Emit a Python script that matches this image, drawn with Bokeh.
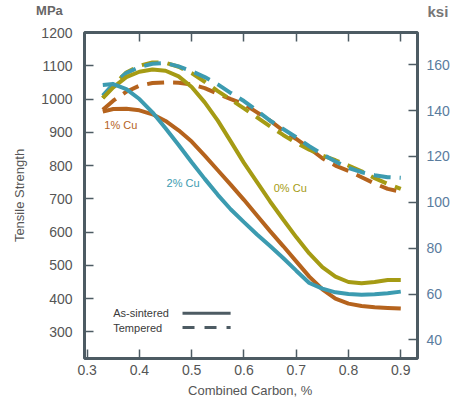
from bokeh.plotting import figure
from bokeh.models import Range1d, LinearAxis, FixedTicker, Label
from bokeh.embed import file_html
from bokeh.resources import INLINE

# Combined carbon content (%) at which each curve is sampled
carbon = [0.33, 0.35, 0.375, 0.40, 0.425, 0.45, 0.475, 0.50, 0.525, 0.55, 0.575, 0.60,
          0.625, 0.65, 0.675, 0.70, 0.725, 0.75, 0.775, 0.80, 0.825, 0.85, 0.875, 0.90]

# Tensile strength, MPa -- as-sintered
sint_0cu = [1003, 1035, 1066, 1082, 1089, 1085, 1068, 1036, 990, 935, 872, 808,
            750, 692, 638, 585, 536, 495, 466, 450, 446, 450, 456, 456]
sint_1cu = [962, 970, 971, 966, 954, 934, 906, 872, 830, 786, 742, 697,
            650, 603, 558, 512, 466, 428, 400, 385, 378, 374, 372, 370]
sint_2cu = [1042, 1045, 1030, 1000, 960, 912, 862, 810, 760, 712, 668, 630,
            593, 558, 522, 484, 447, 430, 419, 414, 412, 413, 416, 421]

# Tensile strength, MPa -- tempered
temp_0cu = [1003, 1040, 1080, 1100, 1110, 1109, 1097, 1078, 1052, 1024, 998, 972,
            945, 918, 892, 868, 848, 830, 816, 800, 783, 762, 745, 730]
temp_1cu = [968, 995, 1022, 1040, 1048, 1050, 1049, 1044, 1033, 1016, 1000, 985,
            960, 935, 905, 880, 852, 822, 800, 784, 765, 746, 730, 721]
temp_2cu = [1010, 1045, 1078, 1096, 1106, 1108, 1098, 1084, 1066, 1044, 1018, 994,
            965, 935, 910, 885, 858, 834, 812, 793, 780, 771, 765, 763]

x_ticks = [0.3, 0.4, 0.5, 0.6, 0.7, 0.8, 0.9]
mpa_ticks = [300, 400, 500, 600, 700, 800, 900, 1000, 1100, 1200]
ksi_ticks = [40, 60, 80, 100, 120, 140, 160]
MPA_PER_KSI = 6.895

# styling
FONT = "Liberation Sans"
FRAME = "#4d5b63"
TEXT = "#555555"
KSI_TEXT = "#5a7c9e"
OLIVE = "#a59b14"
BROWN = "#b5631d"
TEAL = "#3c9bb0"
LW = 4
DASH = "17 9"

ymin, ymax = 220, 1200
p = figure(width=457, height=400, output_backend="svg", toolbar_location=None,
           x_range=Range1d(0.295, 0.932), y_range=Range1d(ymin, ymax),
           min_border_left=84, min_border_right=40, min_border_top=30,
           min_border_bottom=42, background_fill_color="white",
           border_fill_color="white")
p.grid.visible = False
p.outline_line_color = FRAME
p.outline_line_width = 3

def style_axis(ax, ticks, color=TEXT):
    ax.ticker = FixedTicker(ticks=ticks)
    ax.axis_line_color = None
    ax.major_tick_in = 9
    ax.major_tick_out = 0
    ax.minor_tick_line_color = None
    ax.major_tick_line_color = FRAME
    ax.major_tick_line_width = 1.5
    ax.major_label_text_font = FONT
    ax.major_label_text_font_size = "14px"
    ax.major_label_text_color = color

style_axis(p.xaxis[0], x_ticks)
p.xaxis[0].major_label_standoff = 6

style_axis(p.yaxis[0], mpa_ticks)
p.yaxis[0].major_label_standoff = 12
p.yaxis[0].axis_label = "Tensile Strength"
p.yaxis[0].axis_label_text_font = FONT
p.yaxis[0].axis_label_text_font_size = "13px"
p.yaxis[0].axis_label_text_font_style = "normal"
p.yaxis[0].axis_label_text_color = TEXT
p.yaxis[0].axis_label_standoff = 11

p.extra_y_ranges = {"ksi": Range1d(ymin / MPA_PER_KSI, ymax / MPA_PER_KSI)}
right = LinearAxis(y_range_name="ksi")
style_axis(right, ksi_ticks, KSI_TEXT)
right.major_label_standoff = 9
p.add_layout(right, "right")

top = LinearAxis()
style_axis(top, x_ticks[1:])
top.major_label_text_font_size = "0px"
top.major_label_text_color = None
p.add_layout(top, "above")

# tempered (dashed) curves
p.line(carbon, temp_1cu, line_color=BROWN, line_width=LW, line_dash=DASH)
p.line(carbon, temp_0cu, line_color=OLIVE, line_width=LW, line_dash=DASH)
p.line(carbon, temp_2cu, line_color=TEAL, line_width=LW, line_dash=DASH)

# as-sintered (solid) curves
p.line(carbon, sint_0cu, line_color=OLIVE, line_width=LW)
p.line(carbon, sint_1cu, line_color=BROWN, line_width=LW)
p.line(carbon, sint_2cu, line_color=TEAL, line_width=LW)

# curve labels
for x, y, t, c in [(0.333, 921, "1% Cu", BROWN),
                   (0.452, 748, "2% Cu", TEAL),
                   (0.657, 733, "0% Cu", OLIVE)]:
    p.add_layout(Label(x=x, y=y, text=t, text_color=c, text_font=FONT,
                       text_font_size="11px", text_baseline="middle"))

# line-style key
key_x0, key_x1, key_text_x = 0.4825, 0.5745, 0.350
for y, t, dash in [(356, "As-sintered", "solid"), (313, "Tempered", "12 10")]:
    p.add_layout(Label(x=key_text_x, y=y, text=t, text_color="#3a3a3a",
                       text_font=FONT, text_font_size="11px",
                       text_baseline="middle"))
    p.segment(x0=[key_x0], y0=[y], x1=[key_x1], y1=[y], line_color=FRAME,
              line_width=3, line_dash=dash)

# captions outside the frame live in the side panels so they are not clipped
p.add_layout(Label(x=0.228, y=1266, text="MPa", text_color="#666666",
                   text_font=FONT, text_font_size="13px",
                   text_font_style="bold", text_align="center",
                   text_baseline="middle"), "above")
p.add_layout(Label(x=0.971, y=1264, text="ksi", text_color="#777777",
                   text_font=FONT, text_font_size="15px",
                   text_font_style="bold", text_align="center",
                   text_baseline="middle"), "above")
p.add_layout(Label(x=0.612, y=124, text="Combined Carbon, %",
                   text_color=TEXT, text_font=FONT, text_font_size="13px",
                   text_align="center", text_baseline="middle"), "below")

open("out.html", "w").write(file_html(p, INLINE))
